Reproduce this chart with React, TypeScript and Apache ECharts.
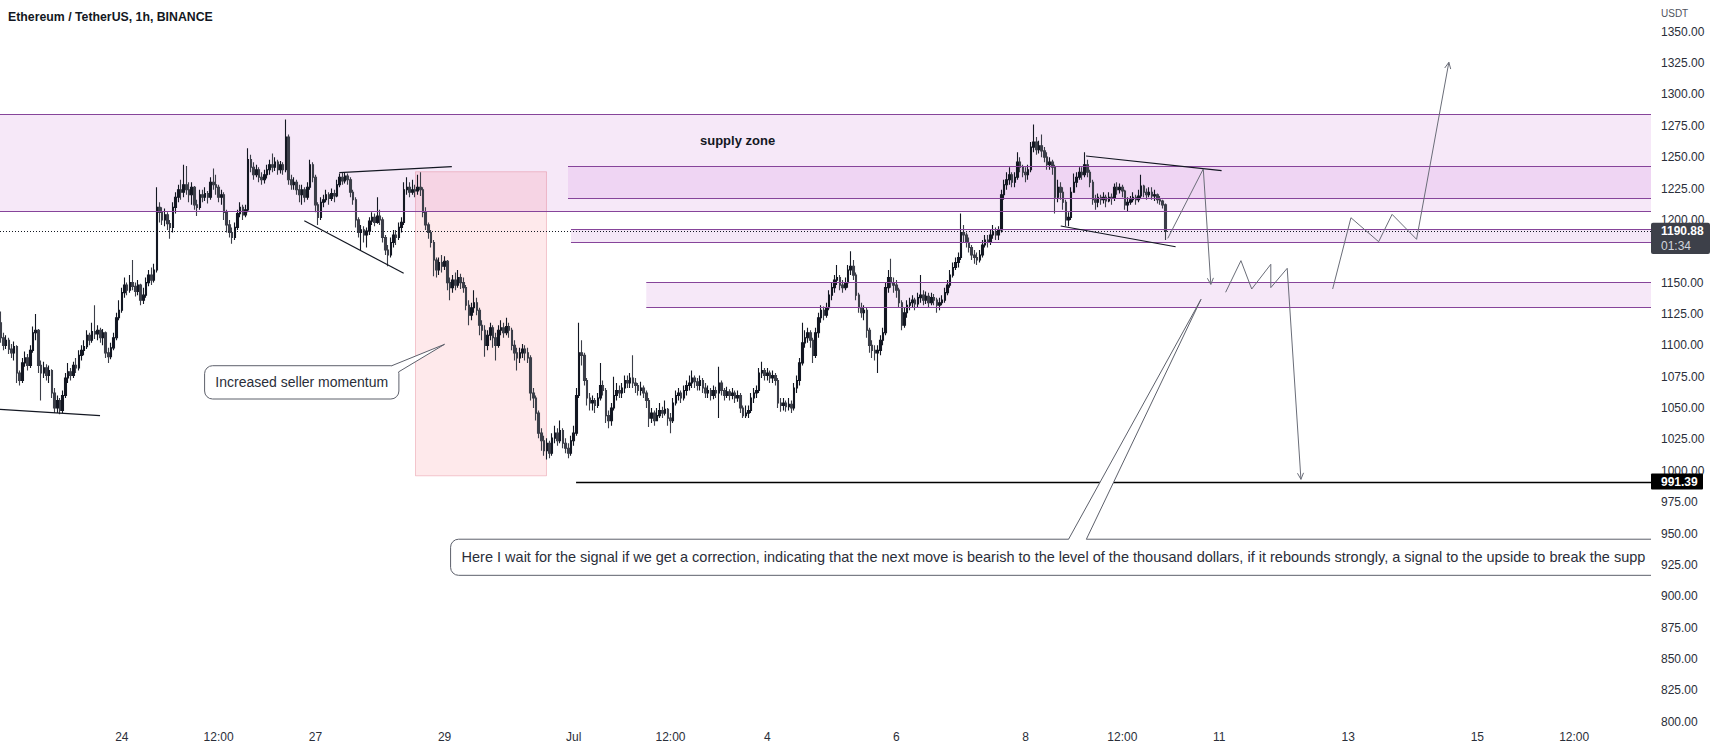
import React, { useEffect, useRef } from "react";
import * as echarts from "echarts";

const FONT = '"Liberation Sans", Arial, sans-serif';
const TITLE = "Ethereum / TetherUS, 1h, BINANCE";

// Time is counted in hours from 24 Jun 2022 00:00, one candle per hour.
const FIRST_CANDLE_HOUR = -45;
const FIRST_OPEN = 1118;
// [close, high, low] for every hourly candle (open = previous close)
const hourlyCandles: number[][] = [
  // Jun 22 03:00 ..
  [1106,1127,1102],[1100,1110,1096],[1104,1108,1097],[1097,1106,1093],[1094,1101,1090],[1099,1103,1088],
  [1078,1100,1070],[1072,1080,1068],[1086,1090,1070],[1090,1095,1083],[1084,1093,1080],[1096,1100,1082],
  [1110,1115,1094],[1112,1125,1104],[1084,1113,1078],[1078,1088,1056],[1082,1087,1074],[1076,1085,1072],
  [1080,1084,1070],[1062,1081,1058],[1050,1066,1046],[1056,1060,1046],[1048,1058,1045],[1060,1064,1046],
  [1074,1078,1058],[1079,1086,1070],[1076,1082,1072],[1084,1087,1074],[1082,1090,1078],[1092,1096,1080],
  [1096,1100,1088],[1099,1104,1092],[1108,1112,1097],[1104,1110,1100],[1111,1118,1102],[1109,1132,1105],
  [1112,1116,1104],[1106,1114,1102],[1110,1113,1100],[1094,1111,1090],[1091,1098,1086],[1098,1102,1089],
  [1106,1110,1096],[1122,1126,1104],[1128,1136,1120],
  // Jun 24 00:00 ..
  [1142,1146,1126],[1148,1154,1138],[1144,1150,1140],[1150,1156,1142],[1147,1168,1144],[1143,1150,1139],
  [1148,1152,1140],[1136,1149,1132],[1140,1146,1133],[1150,1154,1138],[1156,1160,1147],[1152,1162,1148],
  [1160,1165,1150],[1210,1226,1158],[1206,1214,1198],[1200,1210,1196],[1204,1209,1195],[1197,1206,1192],
  [1194,1200,1185],[1210,1214,1190],[1218,1222,1205],[1224,1228,1214],[1222,1232,1216],[1228,1244,1218],
  // Jun 25
  [1224,1243,1220],[1220,1230,1214],[1226,1230,1212],[1212,1227,1208],[1210,1216,1203],[1220,1224,1208],
  [1218,1224,1214],[1221,1226,1215],[1218,1223,1213],[1230,1234,1216],[1228,1241,1224],[1226,1236,1220],
  [1218,1228,1214],[1220,1224,1212],[1206,1222,1200],[1196,1208,1190],[1190,1200,1186],[1186,1194,1181],
  [1194,1198,1184],[1205,1208,1192],[1210,1214,1202],[1204,1212,1200],[1208,1212,1202],[1248,1257,1206],
  // Jun 26
  [1242,1252,1238],[1236,1246,1232],[1240,1244,1234],[1234,1242,1230],[1232,1238,1228],[1236,1240,1229],
  [1240,1244,1233],[1244,1248,1236],[1242,1253,1238],[1246,1250,1239],[1240,1248,1236],[1244,1247,1237],
  [1240,1246,1236],[1266,1280,1238],[1232,1268,1228],[1228,1236,1224],[1230,1234,1224],[1224,1232,1220],
  [1220,1228,1214],[1224,1228,1212],[1218,1226,1214],[1226,1230,1216],[1244,1248,1224],[1234,1246,1230],
  // Jun 27
  [1212,1236,1206],[1202,1214,1196],[1214,1218,1200],[1216,1220,1210],[1220,1224,1214],[1217,1222,1212],
  [1221,1225,1215],[1219,1224,1214],[1228,1232,1218],[1234,1237,1226],[1231,1238,1228],[1235,1238,1229],
  [1232,1237,1228],[1222,1234,1218],[1216,1224,1212],[1200,1218,1194],[1190,1202,1186],[1192,1196,1176],
  [1188,1195,1182],[1191,1194,1178],[1199,1202,1188],[1202,1206,1196],[1198,1205,1195],[1203,1218,1197],
  // Jun 28
  [1200,1208,1196],[1186,1202,1182],[1176,1188,1172],[1172,1180,1163],[1182,1186,1170],[1188,1192,1178],
  [1186,1192,1180],[1194,1198,1184],[1198,1202,1190],[1224,1230,1196],[1226,1234,1220],[1222,1230,1218],
  [1224,1232,1220],[1223,1228,1218],[1226,1236,1220],[1224,1238,1219],[1206,1226,1202],[1196,1210,1192],
  [1190,1198,1185],[1182,1192,1178],[1168,1184,1155],[1160,1170,1154],[1166,1170,1156],[1163,1172,1158],
  // Jun 29
  [1167,1171,1160],[1150,1168,1144],[1146,1154,1136],[1152,1156,1142],[1148,1158,1144],[1154,1160,1146],
  [1150,1157,1145],[1146,1154,1142],[1132,1148,1128],[1124,1136,1116],[1130,1134,1120],[1134,1144,1126],
  [1128,1138,1124],[1116,1130,1108],[1112,1120,1104],[1100,1116,1091],[1108,1112,1096],[1114,1118,1104],
  [1106,1116,1098],[1100,1110,1088],[1112,1116,1098],[1114,1120,1108],[1110,1118,1106],[1115,1122,1108],
  // Jun 30
  [1112,1118,1106],[1100,1114,1096],[1094,1104,1088],[1090,1098,1080],[1094,1098,1086],[1097,1101,1090],
  [1094,1100,1088],[1090,1098,1086],[1062,1092,1056],[1058,1066,1050],[1046,1060,1040],[1030,1048,1026],
  [1024,1034,1016],[1016,1028,1012],[1022,1026,1009],[1014,1024,1010],[1026,1030,1012],[1030,1036,1022],
  [1024,1034,1020],[1032,1040,1022],[1022,1034,1018],[1018,1026,1014],[1014,1022,1010],[1024,1028,1012],
  // Jul 1
  [1030,1036,1020],[1060,1066,1028],[1094,1118,1058],[1092,1104,1084],[1072,1094,1068],[1058,1074,1052],
  [1054,1062,1048],[1056,1060,1048],[1052,1058,1046],[1058,1062,1050],[1068,1086,1056],[1064,1072,1060],
  [1044,1066,1038],[1040,1048,1034],[1050,1054,1036],[1060,1075,1048],[1064,1070,1056],[1062,1068,1058],
  [1066,1070,1058],[1072,1076,1062],[1070,1076,1066],[1074,1078,1066],[1070,1092,1066],[1068,1074,1062],
  // Jul 2
  [1064,1070,1060],[1066,1071,1060],[1062,1068,1058],[1056,1064,1050],[1042,1058,1035],[1046,1050,1038],
  [1040,1048,1036],[1044,1050,1040],[1048,1054,1042],[1046,1051,1042],[1049,1056,1044],[1042,1050,1036],
  [1040,1046,1030],[1054,1058,1038],[1060,1064,1052],[1062,1066,1056],[1058,1064,1054],[1064,1068,1056],
  [1068,1072,1060],[1070,1076,1064],[1074,1080,1066],[1071,1076,1066],[1068,1074,1064],[1072,1076,1064],
  // Jul 3
  [1066,1074,1062],[1062,1070,1058],[1064,1068,1058],[1060,1066,1056],[1064,1068,1057],[1062,1067,1058],
  [1070,1083,1042],[1064,1072,1060],[1060,1066,1056],[1063,1067,1058],[1060,1065,1056],[1062,1066,1057],
  [1058,1064,1054],[1060,1064,1055],[1050,1062,1046],[1044,1052,1042],[1046,1052,1042],[1048,1052,1042],
  [1058,1062,1046],[1062,1066,1054],[1064,1068,1058],[1078,1082,1062],[1080,1087,1074],[1076,1082,1072],
  // Jul 4
  [1078,1082,1072],[1074,1080,1070],[1076,1080,1070],[1072,1078,1068],[1054,1074,1050],[1052,1058,1047],
  [1054,1058,1048],[1051,1056,1047],[1053,1058,1048],[1050,1056,1046],[1066,1070,1048],[1072,1076,1062],
  [1086,1090,1068],[1102,1118,1084],[1106,1112,1098],[1110,1114,1102],[1104,1112,1098],[1092,1106,1086],
  [1110,1114,1090],[1122,1126,1106],[1128,1132,1118],[1124,1131,1120],[1130,1134,1122],[1140,1144,1128],
  // Jul 5
  [1146,1150,1136],[1152,1156,1142],[1154,1164,1148],[1148,1156,1144],[1146,1152,1142],[1150,1154,1144],
  [1160,1164,1146],[1163,1175,1156],[1156,1168,1152],[1140,1158,1136],[1130,1142,1126],[1126,1134,1122],
  [1128,1132,1120],[1112,1130,1106],[1100,1114,1094],[1096,1104,1090],[1094,1100,1088],[1096,1100,1078],
  [1104,1108,1092],[1110,1114,1100],[1146,1150,1108],[1154,1160,1142],[1150,1169,1146],[1148,1154,1142],
  // Jul 6
  [1144,1152,1138],[1134,1146,1130],[1116,1136,1112],[1126,1130,1114],[1132,1136,1122],[1134,1138,1128],
  [1136,1140,1130],[1133,1138,1128],[1138,1142,1130],[1140,1156,1134],[1136,1144,1132],[1139,1143,1133],
  [1134,1142,1130],[1138,1142,1132],[1136,1141,1132],[1132,1138,1126],[1134,1138,1128],[1136,1140,1132],
  [1142,1146,1134],[1148,1152,1140],[1156,1160,1146],[1162,1166,1154],[1166,1170,1160],[1170,1174,1162],
  // Jul 7
  [1190,1205,1168],[1188,1196,1182],[1182,1190,1178],[1178,1186,1174],[1172,1180,1168],[1170,1176,1165],
  [1168,1174,1164],[1172,1176,1166],[1180,1184,1170],[1184,1188,1178],[1182,1188,1178],[1188,1192,1180],
  [1190,1196,1185],[1188,1194,1184],[1192,1195,1184],[1220,1224,1190],[1228,1232,1216],[1232,1238,1224],
  [1236,1242,1228],[1230,1238,1226],[1234,1238,1226],[1246,1254,1232],[1242,1250,1238],[1238,1244,1234],
  // Jul 8
  [1236,1242,1230],[1240,1244,1232],[1258,1262,1238],[1262,1276,1254],[1256,1266,1252],[1259,1263,1253],
  [1255,1268,1250],[1250,1258,1246],[1244,1254,1240],[1246,1250,1240],[1242,1248,1236],[1218,1244,1205],
  [1226,1232,1214],[1222,1230,1216],[1214,1226,1208],[1200,1216,1195],[1202,1206,1195],[1222,1226,1200],
  [1230,1237,1222],[1234,1238,1226],[1238,1242,1232],[1236,1242,1232],[1244,1254,1234],[1238,1248,1234],
  // Jul 9
  [1230,1240,1226],[1216,1232,1212],[1214,1220,1208],[1218,1221,1210],[1216,1220,1212],[1218,1222,1213],
  [1215,1220,1210],[1218,1222,1214],[1217,1221,1212],[1226,1229,1215],[1224,1230,1220],[1226,1229,1221],
  [1223,1228,1218],[1212,1224,1208],[1214,1218,1207],[1216,1219,1212],[1218,1222,1214],[1216,1220,1212],
  [1219,1224,1214],[1227,1236,1217],[1222,1228,1218],[1220,1225,1216],[1222,1226,1218],[1219,1226,1216],
  // Jul 10
  [1220,1224,1215],[1216,1221,1213],[1215,1219,1212],[1212,1216,1209],[1190.88,1213,1184],
];

// axis ranges (hours / USDT)
const X_MIN = -45.29;
const X_MAX = 568.56;
const Y_MIN = 800;
const Y_MAX = 1350;
const Y_STEP = 25;
// price-scale label hidden behind the last-price tag, as in the reference
const Y_HIDDEN_LABELS = [1175];

const xTickHours = [0, 36, 72, 120, 168, 204, 240, 288, 336, 372, 408, 456, 504, 540];
const xTickLabels = ["24", "12:00", "27", "29", "Jul", "12:00", "4", "6", "8", "12:00", "11", "13", "15", "12:00"];

const LAST_PRICE = 1190.88;
const LAST_COUNTDOWN = "01:34";
const SUPPORT_PRICE = 991.39;
const SUPPORT_START = 168.9;

// zones: [startHour, endHour, low, high]
const supplyZone = [X_MIN, X_MAX, 1207.1, 1284.2];
const innerBand = [165.9, X_MAX, 1217.2, 1242.9];
const midBand = [167.0, X_MAX, 1182.1, 1192.5];
const lowerBand = [195.0, X_MAX, 1130.3, 1150.3];
const sellBox = [109.2, 157.9, 996, 1238.4];

const trendLines = [
  [[-45.29, 1049.0], [-8.11, 1043.9]],
  [[80.86, 1237.6], [122.7, 1242.4]],
  [[67.85, 1199.3], [104.8, 1157.4]],
  [[358.5, 1250.9], [408.9, 1239.2]],
  [[349.1, 1195.1], [391.8, 1178.6]],
];

const arrowPaths = [
  [[388.9, 1185.3], [402.1, 1240.6], [404.9, 1148.6]],
  [[410.4, 1142.3], [416.1, 1167.5], [420.1, 1144.9], [427.2, 1164.6], [427.2, 1146.0], [433.3, 1161.4], [438.4, 993.2]],
  [[450.2, 1144.9], [457.0, 1201.7], [467.3, 1182.6], [472.3, 1204.4], [481.4, 1184.5], [493.4, 1325.6]],
];

const sellerText = "Increased seller momentum";
const sellerAnchor = [30.78, 1083.76];
const sellerTip = [120.0, 1100.82];

const planText =
  "Here I wait for the signal if we get a correction, indicating that the next move is bearish to the level of the thousand dollars, if it rebounds strongly, a signal to the upside to break the supp";
const planAnchor = [122.24, 945.46];
const planTip = [401.25, 1136.69];

const supplyText = "supply zone";
const supplyTextAt = [214.97, 1263.67];

const ZONE_LINE = "#86449a";
const ARROW = "#6a6d78";
const CALLOUT = "#5d606b";
const UP = "#131722";
const DOWN = "#3c3f49";
const TEXT = "#131722";

function arrowHead(p0: number[], p1: number[], len = 7, ang = Math.PI / 7) {
  const dx = p1[0] - p0[0];
  const dy = p1[1] - p0[1];
  const d = Math.hypot(dx, dy) || 1;
  const ux = dx / d;
  const uy = dy / d;
  const rot = (a: number) => [
    p1[0] - len * (ux * Math.cos(a) - uy * Math.sin(a)),
    p1[1] - len * (ux * Math.sin(a) + uy * Math.cos(a)),
  ];
  return [rot(ang), p1, rot(-ang)];
}

function txt(x: number, y: number, text: string, font: string, fill: string, align = "left") {
  return {
    type: "text",
    x,
    y,
    style: { text, font, fill, textAlign: align, textVerticalAlign: "middle", align, verticalAlign: "middle" },
  };
}

export default function App() {
  const ref = useRef<HTMLDivElement>(null);

  useEffect(() => {
    const chart = echarts.init(ref.current as HTMLDivElement, undefined, { renderer: "svg" });

    const candleData = hourlyCandles.map((row, i) => {
      const open = i === 0 ? FIRST_OPEN : hourlyCandles[i - 1][0];
      const [close, high, low] = row;
      return [FIRST_CANDLE_HOUR + i, open, close, Math.min(low, open, close), Math.max(high, open, close)];
    });

    const backRender = (_p: any, api: any) => {
      const box = (z: number[], style: any) => {
        const a = api.coord([z[0], z[3]]);
        const b = api.coord([z[1], z[2]]);
        return { type: "rect", shape: { x: a[0], y: a[1], width: b[0] - a[0], height: b[1] - a[1] }, style };
      };
      return {
        type: "group",
        children: [
          box(supplyZone, { fill: "#f6e8f8" }),
          box(innerBand, { fill: "#efd5f3" }),
          box(midBand, { fill: "#f4e7f7" }),
          box(lowerBand, { fill: "#f6e8f8" }),
          box(sellBox, { fill: "rgba(242,54,69,0.11)", stroke: "rgba(220,110,130,0.35)", lineWidth: 1 }),
        ],
      };
    };

    const frontRender = (_p: any, api: any) => {
      const P = (p: number[]) => api.coord(p);
      const crisp = (v: number) => Math.round(v) + 0.5;
      const children: any[] = [];
      const hline = (x1: number, x2: number, v: number, stroke: string, lineWidth = 1, lineDash?: number[]) => {
        const a = P([x1, v]);
        const b = P([x2, v]);
        const y = crisp(a[1]);
        const style: any = { stroke, lineWidth };
        if (lineDash) style.lineDash = lineDash;
        children.push({ type: "line", shape: { x1: a[0], y1: y, x2: b[0], y2: y }, style });
      };
      [supplyZone, innerBand, midBand, lowerBand].forEach((z) => {
        hline(z[0], z[1], z[2], ZONE_LINE);
        hline(z[0], z[1], z[3], ZONE_LINE);
      });
      hline(X_MIN, X_MAX, LAST_PRICE, "#131722", 1, [1, 2]);
      hline(SUPPORT_START, X_MAX, SUPPORT_PRICE, "#000000", 1.6);

      trendLines.forEach((seg) => {
        const a = P(seg[0]);
        const b = P(seg[1]);
        children.push({
          type: "line",
          shape: { x1: a[0], y1: a[1], x2: b[0], y2: b[1] },
          style: { stroke: "#131722", lineWidth: 1.2 },
        });
      });

      arrowPaths.forEach((path) => {
        const pts = path.map(P);
        children.push({ type: "polyline", shape: { points: pts }, style: { stroke: ARROW, lineWidth: 1, fill: null } });
        children.push({
          type: "polyline",
          shape: { points: arrowHead(pts[pts.length - 2], pts[pts.length - 1]) },
          style: { stroke: ARROW, lineWidth: 1, fill: null },
        });
      });

      // seller callout
      {
        const a = P(sellerAnchor);
        const tip = P(sellerTip);
        const w = 194.3;
        const h = 33.3;
        const bA = [a[0] + 187.2, a[1]];
        const bB = [a[0] + w, a[1] + 6];
        children.push({
          type: "rect",
          shape: { x: a[0], y: a[1], width: w, height: h, r: 8 },
          style: { fill: "#ffffff", stroke: CALLOUT, lineWidth: 1 },
        });
        children.push({
          type: "polygon",
          shape: { points: [[bA[0], bA[1] + 2], bA, tip, bB, [bB[0] - 2, bB[1]]] },
          style: { fill: "#ffffff" },
        });
        children.push({ type: "polyline", shape: { points: [bA, tip, bB] }, style: { stroke: CALLOUT, lineWidth: 1, fill: null } });
        children.push(txt(a[0] + w / 2, a[1] + h / 2, sellerText, `14px ${FONT}`, "#2a2e39", "center"));
      }

      // plan callout
      {
        const a = P(planAnchor);
        const tip = P(planTip);
        const w = 1400;
        const h = 36.1;
        const bA = [a[0] + 618.0, a[1]];
        const bB = [a[0] + 635.8, a[1]];
        children.push({
          type: "rect",
          shape: { x: a[0], y: a[1], width: w, height: h, r: 8 },
          style: { fill: "#ffffff", stroke: CALLOUT, lineWidth: 1 },
        });
        children.push({
          type: "polygon",
          shape: { points: [[bA[0] + 1, bA[1] + 2], bA, tip, bB, [bB[0] - 1, bB[1] + 2]] },
          style: { fill: "#ffffff" },
        });
        children.push({ type: "polyline", shape: { points: [bA, tip, bB] }, style: { stroke: CALLOUT, lineWidth: 1, fill: null } });
        children.push(txt(a[0] + 11, a[1] + h / 2, planText, `14.5px ${FONT}`, "#2a2e39", "left"));
      }

      const s = P(supplyTextAt);
      children.push(txt(s[0], s[1], supplyText, `bold 13px ${FONT}`, TEXT, "left"));

      return { type: "group", children };
    };

    const tagRender = (_p: any, api: any) => {
      const a = api.coord([X_MAX, LAST_PRICE]);
      const b = api.coord([X_MAX, SUPPORT_PRICE]);
      return {
        type: "group",
        children: [
          { type: "rect", shape: { x: a[0], y: a[1] - 8.6, width: 59, height: 31.3, r: 2 }, style: { fill: "#3d4049" } },
          txt(a[0] + 10, a[1], LAST_PRICE.toFixed(2), `bold 12px ${FONT}`, "#ffffff"),
          txt(a[0] + 10, a[1] + 14.5, LAST_COUNTDOWN, `12px ${FONT}`, "#d1d4dc"),
          { type: "rect", shape: { x: b[0], y: b[1] - 8, width: 52, height: 16, r: 1 }, style: { fill: "#000000" } },
          txt(b[0] + 10, b[1], SUPPORT_PRICE.toFixed(2), `bold 12px ${FONT}`, "#ffffff"),
        ],
      };
    };

    const option: any = {
      animation: false,
      backgroundColor: "#ffffff",
      grid: { left: 0, top: 31.7, width: 1651, height: 690, containLabel: false },
      xAxis: {
        type: "value",
        min: X_MIN,
        max: X_MAX,
        axisLine: { show: false },
        axisTick: { show: false },
        splitLine: { show: false },
        axisLabel: {
          customValues: xTickHours,
          formatter: (v: number) => {
            const i = xTickHours.indexOf(Math.round(v));
            return i >= 0 ? xTickLabels[i] : "";
          },
          color: "#2a2e39",
          fontSize: 12,
          fontFamily: FONT,
          margin: 9,
          showMinLabel: true,
          showMaxLabel: true,
          hideOverlap: false,
        },
      },
      yAxis: {
        type: "value",
        position: "right",
        min: Y_MIN,
        max: Y_MAX,
        interval: Y_STEP,
        axisLine: { show: false },
        axisTick: { show: false },
        splitLine: { show: false },
        axisLabel: {
          formatter: (v: number) => (Y_HIDDEN_LABELS.indexOf(v) >= 0 ? "" : v.toFixed(2)),
          color: "#2a2e39",
          fontSize: 12,
          fontFamily: FONT,
          margin: 10,
          align: "left",
        },
      },
      graphic: [
        txt(8, 16.5, TITLE, `bold 12.3px ${FONT}`, TEXT),
        txt(1661, 13.7, "USDT", `10px ${FONT}`, "#50535e"),
      ],
      series: [
        {
          type: "custom",
          name: "zones",
          z: 1,
          clip: true,
          silent: true,
          data: [[0, 1000]],
          encode: { x: 0, y: 1 },
          renderItem: backRender,
        },
        {
          type: "candlestick",
          name: "ETHUSDT",
          z: 2,
          barWidth: 2,
          dimensions: ["hour", "open", "close", "lowest", "highest"],
          encode: { x: "hour", y: ["open", "close", "lowest", "highest"] },
          data: candleData,
          itemStyle: { color: UP, color0: DOWN, borderColor: UP, borderColor0: DOWN, borderWidth: 1.1 },
          silent: true,
        },
        {
          type: "custom",
          name: "drawings",
          z: 3,
          clip: true,
          silent: true,
          data: [[0, 1000]],
          encode: { x: 0, y: 1 },
          renderItem: frontRender,
        },
        {
          type: "custom",
          name: "tags",
          z: 10,
          clip: false,
          silent: true,
          data: [[0, 1000]],
          encode: { x: 0, y: 1 },
          renderItem: tagRender,
        },
      ],
    };

    chart.setOption(option);
    return () => chart.dispose();
  }, []);

  return (
    <div
      ref={ref}
      style={{ position: "absolute", left: 0, top: 0, width: 1715, height: 752, background: "#ffffff" }}
    />
  );
}
